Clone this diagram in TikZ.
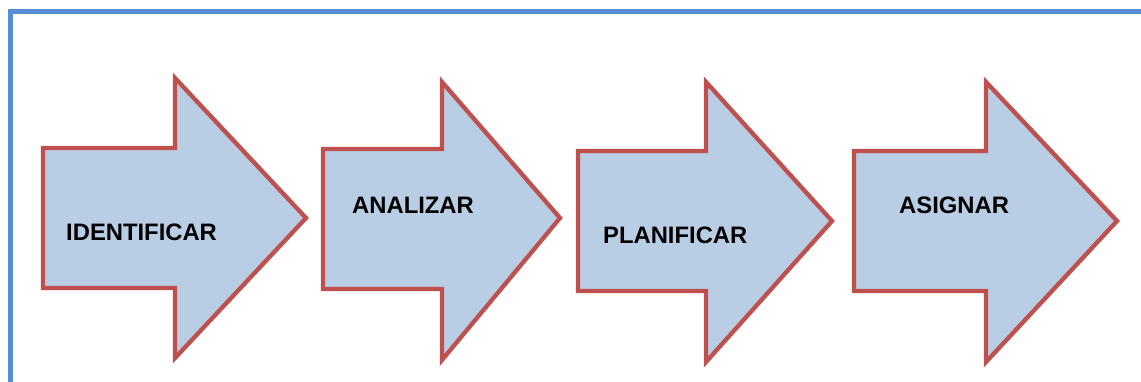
\documentclass[tikz,border=0pt]{standalone}
\usepackage{fontspec}
\setmainfont{Liberation Sans}
\definecolor{arrowfill}{HTML}{B9CDE5}
\definecolor{arrowline}{HTML}{C0504D}
\definecolor{frameblue}{HTML}{558ED5}
\tikzset{
  steparrow/.style={fill=arrowfill, draw=arrowline, line width=4.3pt, line join=miter},
  steplabel/.style={anchor=base west, inner sep=0pt, font=\bfseries\fontsize{23.8}{24}\selectfont},
  frameline/.style={draw=frameblue, line width=5pt}
}
\newcommand{\steparrowshape}[8]{% left, bodytop, bodybottom, notch, headtop, headbottom, tipx, tipy
  \draw[steparrow] (#1,#2) -- (#4,#2) -- (#4,#5) -- (#7,#8) -- (#4,#6) -- (#4,#3) -- (#1,#3) -- cycle;
}
\begin{document}
\begin{tikzpicture}[x=1pt,y=-1pt]
\useasboundingbox (0,0) rectangle (1141,381);
\begin{scope}
\clip (0,0) rectangle (1141,381);
\draw[frameline] (10,11) rectangle (1160,400);
\end{scope}
\steparrowshape{43}{148}{288}{175}{78}{358}{306}{218}
\steparrowshape{323}{149}{289}{442}{82}{360}{560}{218}
\steparrowshape{578}{151}{291}{706}{82}{362}{832}{221}
\steparrowshape{854}{151}{291}{986}{82}{362}{1117}{221}
\node[steplabel] (identificar) at (66,240) {IDENTIFICAR};
\node[steplabel] (analizar) at (352,213) {ANALIZAR};
\node[steplabel] (planificar) at (603,243) {PLANIFICAR};
\node[steplabel] (asignar) at (899,213) {ASIGNAR};
\end{tikzpicture}
\end{document}
